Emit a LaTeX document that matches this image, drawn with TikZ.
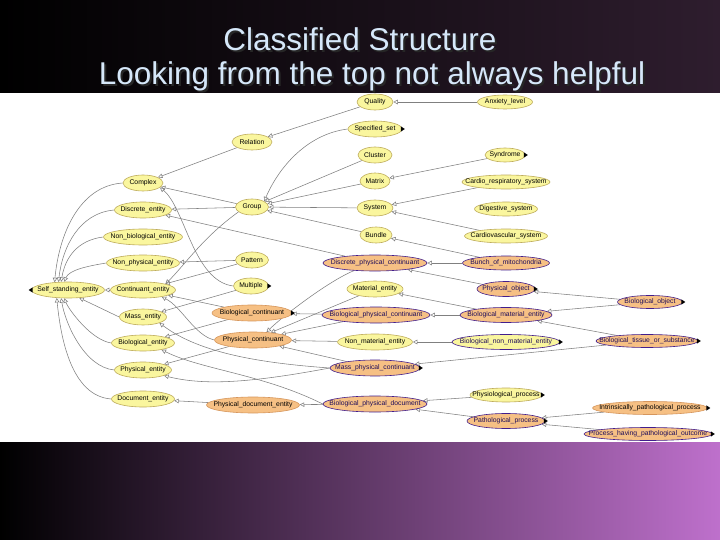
\documentclass[tikz,border=0pt]{standalone}
\usepackage{fontspec}
\setmainfont{Liberation Sans}
\usetikzlibrary{arrows.meta, shapes.geometric}

\definecolor{clsyellow}{RGB}{250,246,158}
\definecolor{clsyellowline}{RGB}{190,172,92}
\definecolor{clsorange}{RGB}{246,192,132}
\definecolor{clsorangeline}{RGB}{214,150,92}
\definecolor{clspurple}{RGB}{66,30,140}
\definecolor{clsnavy}{RGB}{30,12,90}
\definecolor{edgegray}{RGB}{128,128,128}
\definecolor{titleblue}{RGB}{214,232,250}
\definecolor{plum}{RGB}{46,29,46}
\definecolor{violet}{RGB}{190,112,204}
\definecolor{midviolet}{RGB}{84,42,96}

\newcommand{\mk}[1]{\makebox[0pt]{#1}}
% heading text with a dark drop shadow
\newcommand{\shadowed}[1]{\rlap{\kern2pt\raisebox{-2pt}{\color{black!85}#1}}#1}
% black triangle: hidden classes behind a node
\newcommand{\more}[1]{\fill ([xshift=-1.5pt]#1.east) -- ++(0,-2.7) -- ++(4,2.7) -- ++(-4,2.7) -- cycle;}

\pgfdeclarelayer{backdrop}
\pgfdeclarelayer{edges}
\pgfsetlayers{backdrop,edges,main}

\begin{document}
\begin{tikzpicture}[x=1pt, y=-1pt,
    cls/.style={ellipse, draw, line width=0.6pt, inner sep=0pt, minimum height=16pt,
        font=\fontsize{6.8}{7}\selectfont},
    yel/.style={cls, fill=clsyellow, draw=clsyellowline, minimum width=#1pt},
    org/.style={cls, fill=clsorange, draw=clsorangeline, minimum width=#1pt},
    orp/.style={cls, fill=clsorange, draw=clspurple, text=clsnavy, minimum width=#1pt},
    ylp/.style={cls, fill=clsyellow, draw=clspurple, text=clsnavy, minimum width=#1pt},
    isa/.style={draw=edgegray, line width=0.55pt, -{Triangle[open, length=4.5pt, width=4.5pt]}},
    heading/.style={font=\fontsize{31.5}{34}\selectfont, text=titleblue}]
    \useasboundingbox (0,0) rectangle (720,540);

    % Slide background and white panel
    \begin{pgfonlayer}{backdrop}
        \shade[left color=black, right color=plum] (0,0) rectangle (720,93);
        \shade[left color=black, middle color=midviolet, right color=violet] (0,442) rectangle (720,540);
        \fill[white] (0,93) rectangle (720,442);
    \end{pgfonlayer}

    % Title
    \node[heading] (title) at (360,40) {\shadowed{Classified Structure}};
    \node[heading] (subtitle) at (372,77) {\shadowed{Looking from the top not always helpful}};

    % Root and its children
    \node[yel=73] (sse) at (68,290) {\mk{Self\_standing\_entity}};
    \node[yel=40] (complex) at (143,183) {\mk{Complex}};
    \node[yel=57] (discrete) at (143,210) {\mk{Discrete\_entity}};
    \node[yel=79] (nonbio) at (143,237) {\mk{Non\_biological\_entity}};
    \node[yel=73] (nonphys) at (143,263) {\mk{Non\_physical\_entity}};
    \node[yel=65] (contin) at (143,290) {\mk{Continuant\_entity}};
    \node[yel=47] (mass) at (143,317) {\mk{Mass\_entity}};
    \node[yel=63] (bioent) at (143,343) {\mk{Biological\_entity}};
    \node[yel=57] (physent) at (143,370) {\mk{Physical\_entity}};
    \node[yel=63] (docent) at (143,399) {\mk{Document\_entity}};

    % Second column
    \node[yel=40] (relation) at (252,142) {\mk{Relation}};
    \node[yel=33] (group) at (252,207) {\mk{Group}};
    \node[yel=33] (pattern) at (252,260) {\mk{Pattern}};
    \node[yel=35] (multiple) at (251,286) {\mk{Multiple}};
    \node[org=80] (biocont) at (252,313) {\mk{Biological\_continuant}};
    \node[org=77] (physcont) at (253,340) {\mk{Physical\_continuant}};
    \node[org=93] (physdoc) at (253,405) {\mk{Physical\_document\_entity}};

    % Third column
    \node[yel=36] (quality) at (375,102) {\mk{Quality}};
    \node[yel=54] (specset) at (375,129) {\mk{Specified\_set}};
    \node[yel=34] (cluster) at (375,155) {\mk{Cluster}};
    \node[yel=30] (matrix) at (375,181) {\mk{Matrix}};
    \node[yel=36] (system) at (375,208) {\mk{System}};
    \node[yel=32] (bundle) at (376,235) {\mk{Bundle}};
    \node[orp=104] (dpc) at (375,263) {\mk{Discrete\_physical\_continuant}};
    \node[yel=56] (material) at (375,289) {\mk{Material\_entity}};
    \node[orp=108] (bpc) at (376,315) {\mk{Biological\_physical\_continuant}};
    \node[yel=75] (nonmat) at (375,342) {\mk{Non\_material\_entity}};
    \node[orp=90] (mpc) at (375,368) {\mk{Mass\_physical\_continuant}};
    \node[orp=104] (bpd) at (375,404) {\mk{Biological\_physical\_document}};

    % Fourth column
    \node[yel=55, minimum height=14pt] (anxiety) at (505,102) {\mk{Anxiety\_level}};
    \node[yel=40, minimum height=14pt] (syndrome) at (505,155) {\mk{Syndrome}};
    \node[yel=88, minimum height=14pt] (cardresp) at (506,182) {\mk{Cardio\_respiratory\_system}};
    \node[yel=63, minimum height=14pt] (digest) at (506,209) {\mk{Digestive\_system}};
    \node[yel=83, minimum height=14pt] (cardvasc) at (506,236) {\mk{Cardiovascular\_system}};
    \node[orp=87, minimum height=14pt] (bunch) at (506,263) {\mk{Bunch\_of\_mitochondria}};
    \node[orp=58, minimum height=15pt] (physobj) at (506,289) {\mk{Physical\_object}};
    \node[orp=92, minimum height=15pt] (bme) at (506,315) {\mk{Biological\_material\_entity}};
    \node[ylp=108, minimum height=15pt] (bnme) at (506,342) {\mk{Biological\_non\_material\_entity}};
    \node[yel=72, minimum height=14pt] (physio) at (506,395) {\mk{Physiological\_process}};
    \node[orp=78, minimum height=15pt] (patho) at (506,421) {\mk{Pathological\_process}};

    % Fifth column
    \node[orp=65, minimum height=13pt] (bioobj) at (650,302) {\mk{Biological\_object}};
    \node[orp=102, minimum height=13pt] (tissue) at (647,341) {\mk{Biological\_tissue\_or\_substance}};
    \node[org=115, minimum height=13pt] (intrpat) at (650,408) {\mk{Intrinsically\_pathological\_process}};
    \node[orp=128, minimum height=13pt] (phpo) at (648,434) {\mk{Process\_having\_pathological\_outcome}};

    % Markers for collapsed classes
    \fill ([xshift=1.5pt]sse.west) -- ++(0,-2.7) -- ++(-4,2.7) -- ++(4,2.7) -- cycle;
    \more{specset} \more{multiple} \more{biocont} \more{mpc} \more{syndrome}
    \more{physobj} \more{bnme} \more{physio} \more{patho}
    \more{bioobj} \more{tissue} \more{intrpat} \more{phpo}

    \begin{pgfonlayer}{edges}
        % Into the root
        \draw[isa] (complex.west) .. controls +(-45,3) and +(4,-45) .. (sse.150);
        \draw[isa] (discrete.west) .. controls +(-35,3) and +(4,-35) .. (sse.140);
        \draw[isa] (nonbio.west) .. controls +(-25,3) and +(4,-25) .. (sse.130);
        \draw[isa] (nonphys.west) .. controls +(-18,3) and +(5,-12) .. (sse.115);
        \draw[isa] (contin) -- (sse);
        \draw[isa] (mass.west) -- (sse.-35);
        \draw[isa] (bioent.west) .. controls +(-20,-3) and +(5,12) .. (sse.-115);
        \draw[isa] (physent.west) .. controls +(-30,-3) and +(4,25) .. (sse.-130);
        \draw[isa] (docent.west) .. controls +(-40,-3) and +(4,40) .. (sse.-145);

        % Second column to first
        \draw[isa] (relation) -- (complex);
        \draw[isa] (group) -- (complex);
        \draw[isa] (group) -- (discrete);
        \draw[isa] (group.200) .. controls +(-35,25) and +(20,-20) .. (contin.15);
        \draw[isa] (multiple.west) .. controls +(-40,-5) and +(25,20) .. (complex.-15);
        \draw[isa] (pattern) -- (nonphys);
        \draw[isa] (pattern) -- (contin);
        \draw[isa] (multiple) -- (mass);
        \draw[isa] (biocont) -- (contin);
        \draw[isa] (biocont) -- (bioent);
        \draw[isa] (physcont.west) .. controls +(-20,-5) and +(20,10) .. (contin.-20);
        \draw[isa] (physcont) -- (physent);
        \draw[isa] (physdoc) -- (docent);

        % Third column
        \draw[isa] (quality) -- (relation);
        \draw[isa] (specset.west) .. controls +(-40,5) and +(15,-35) .. (group.25);
        \draw[isa] (cluster) -- (group);
        \draw[isa] (matrix) -- (group);
        \draw[isa] (system) -- (group);
        \draw[isa] (bundle) -- (group);
        \draw[isa] (dpc) -- (discrete);
        \draw[isa] (dpc.200) .. controls +(-25,10) and +(15,-15) .. (physcont.30);
        \draw[isa] (material) -- (physcont);
        \draw[isa] (bpc) -- (physcont);
        \draw[isa] (bpc) -- (biocont);
        \draw[isa] (nonmat) -- (physcont);
        \draw[isa] (mpc) -- (physcont);
        \draw[isa] (mpc.west) .. controls +(-70,-5) and +(40,30) .. (mass.-20);
        \draw[isa] (mpc.west) .. controls +(-80,15) and +(40,10) .. (physent.-15);
        \draw[isa] (bpd.west) .. controls +(-60,-30) and +(40,20) .. (bioent.-20);
        \draw[isa] (bpd) -- (physdoc);

        % Fourth column
        \draw[isa] (anxiety) -- (quality);
        \draw[isa] (syndrome) -- (matrix);
        \draw[isa] (cardresp) -- (system);
        \draw[isa] (cardvasc) -- (system);
        \draw[isa] (bunch) -- (bundle);
        \draw[isa] (bunch) -- (dpc);
        \draw[isa] (physobj) -- (dpc);
        \draw[isa] (bme) -- (material);
        \draw[isa] (bme) -- (bpc);
        \draw[isa] (bnme) -- (nonmat);
        \draw[isa] (physio) -- (bpd);
        \draw[isa] (patho) -- (bpd);

        % Fifth column
        \draw[isa] (bioobj) -- (physobj);
        \draw[isa] (bioobj) -- (bme);
        \draw[isa] (tissue) -- (bme);
        \draw[isa] (tissue) -- (mpc);
        \draw[isa] (intrpat) -- (patho);
        \draw[isa] (phpo) -- (patho);
    \end{pgfonlayer}
\end{tikzpicture}
\end{document}
